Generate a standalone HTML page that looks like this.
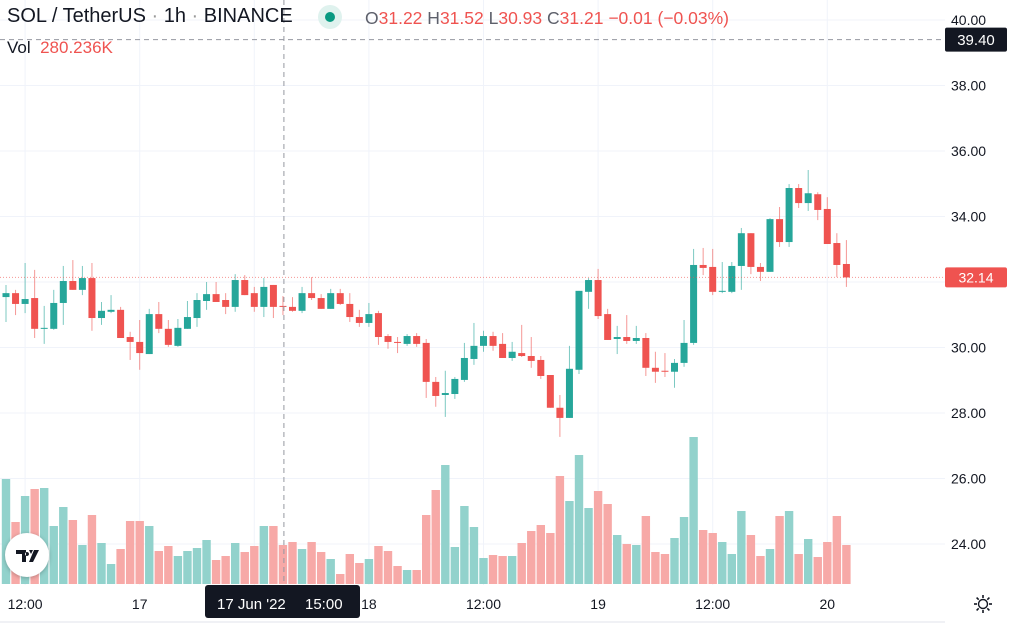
<!DOCTYPE html>
<html><head><meta charset="utf-8"><style>
html,body{margin:0;padding:0;background:#fff;}
body{width:1024px;height:633px;overflow:hidden;position:relative;font-family:"Liberation Sans",sans-serif;}
svg{position:absolute;left:0;top:0;}
.lg{position:absolute;white-space:nowrap;color:#131722;}
.r{color:#ef5350}.g{color:#5d606b}
</style></head><body>
<svg id="chart" width="1024" height="633" xmlns="http://www.w3.org/2000/svg">
<g id="grid"></g>
<g id="vol"></g>
<g id="candles"></g>
<g id="overlay"></g>
<g id="axes"></g>
</svg>
<div class="lg" style="left:7px;top:5px;font-size:20px;">SOL / TetherUS <span style="color:#999">·</span> 1h <span style="color:#999">·</span> BINANCE</div>
<div style="position:absolute;left:318px;top:5px;width:24px;height:24px;border-radius:50%;background:#dff2ee;"><div style="position:absolute;left:7px;top:7px;width:10px;height:10px;border-radius:50%;background:#089981"></div></div>
<div class="lg" style="left:365px;top:8px;font-size:17.5px;"><span class="g">O</span><span class="r">31.22</span> <span class="g">H</span><span class="r">31.52</span> <span class="g">L</span><span class="r">30.93</span> <span class="g">C</span><span class="r">31.21</span> <span class="r">−0.01 (−0.03%)</span></div>
<div class="lg" style="left:7px;top:38px;font-size:17px;"><span style="color:#131722">Vol</span>&nbsp; <span class="r">280.236K</span></div>
<div style="position:absolute;left:5px;top:533px;width:44px;height:44px;border-radius:50%;background:#fff;box-shadow:0 1px 4px rgba(0,0,0,0.25);"><svg width="44" height="44" viewBox="0 0 44 44"><path d="M11 17h10v12h-4v-8h-6z M24 17h4l-2 4z M29 17h5l-6 12h-4z M22 19a2 2 0 1 0 0.01 0" fill="#131722"/></svg></div>
<div style="position:absolute;left:973px;top:594px;width:20px;height:20px;"><svg width="20" height="20" viewBox="0 0 20 20"><circle cx="10" cy="10" r="4.5" fill="none" stroke="#131722" stroke-width="1.4"/><g stroke="#131722" stroke-width="1.6"><line x1="10" y1="1" x2="10" y2="4"/><line x1="10" y1="16" x2="10" y2="19"/><line x1="1" y1="10" x2="4" y2="10"/><line x1="16" y1="10" x2="19" y2="10"/><line x1="3.6" y1="3.6" x2="5.7" y2="5.7"/><line x1="14.3" y1="14.3" x2="16.4" y2="16.4"/><line x1="3.6" y1="16.4" x2="5.7" y2="14.3"/><line x1="14.3" y1="5.7" x2="16.4" y2="3.6"/></g></svg></div>
<script>
const opens=[31.54,31.66,31.33,31.51,30.57,30.57,31.36,32.03,31.76,32.12,30.90,31.09,31.15,30.32,30.17,29.80,31.02,30.57,30.05,30.57,30.90,31.42,31.63,31.45,31.24,32.06,31.66,31.24,31.91,31.27,31.24,31.12,31.66,31.51,31.18,31.66,31.33,30.93,30.75,31.05,30.35,30.17,30.11,30.35,30.14,28.95,28.55,28.58,29.01,29.65,30.05,30.35,30.11,29.68,29.83,29.74,29.62,29.16,28.16,27.85,29.32,31.70,32.06,31.02,30.26,30.32,30.20,30.29,29.38,29.29,29.26,29.53,30.14,32.52,32.46,31.70,31.70,32.49,33.49,32.46,32.31,33.92,33.22,34.87,34.41,34.68,34.23,33.19,32.55];
const highs=[31.91,31.76,32.58,32.37,31.27,31.76,32.49,32.67,32.49,32.58,31.39,31.60,31.24,30.48,30.84,31.18,31.39,30.84,30.87,31.42,31.66,32.00,32.00,31.66,32.24,32.21,31.85,32.12,31.91,31.57,31.54,31.85,32.15,31.63,31.79,31.79,31.66,31.15,31.36,31.12,30.41,30.32,30.41,30.44,30.26,29.10,29.29,29.10,30.14,30.75,30.51,30.48,30.44,30.17,30.69,30.32,29.74,29.16,28.55,30.05,31.73,32.12,32.40,31.18,30.66,30.99,30.66,30.44,29.87,29.83,29.65,30.84,33.01,33.04,33.01,32.61,32.61,33.65,33.49,32.58,33.95,34.29,34.99,34.99,35.42,34.74,34.59,33.49,33.28];
const lows=[30.78,30.99,31.05,30.29,30.11,30.54,30.69,31.76,31.60,30.51,30.69,31.05,30.29,29.62,29.32,29.80,30.44,30.02,30.02,30.57,30.63,31.15,31.39,31.02,31.09,31.60,31.09,30.93,30.90,30.99,31.09,31.05,31.45,31.18,31.18,31.30,30.78,30.63,30.63,30.08,29.96,29.83,30.05,30.02,28.46,28.19,27.88,28.43,28.95,29.47,29.87,29.90,29.68,29.59,29.71,29.38,29.04,28.16,27.27,27.85,29.19,31.18,30.87,30.23,29.80,30.11,30.11,29.13,28.92,29.10,28.77,29.41,30.08,32.21,31.60,31.66,31.66,31.76,32.24,32.03,32.31,33.07,33.07,34.26,34.17,33.89,33.16,32.15,31.85];
const closes=[31.66,31.33,31.48,30.57,30.60,31.36,32.03,31.76,32.12,30.90,31.12,31.15,30.29,30.17,29.83,31.02,30.57,30.08,30.60,30.93,31.45,31.63,31.39,31.24,32.06,31.60,31.24,31.85,31.24,31.24,31.12,31.66,31.51,31.18,31.66,31.33,30.93,30.75,31.02,30.32,30.17,30.14,30.35,30.11,28.95,28.52,28.61,29.04,29.68,30.05,30.35,30.05,29.68,29.87,29.74,29.59,29.13,28.16,27.85,29.35,31.73,32.06,30.96,30.23,30.32,30.20,30.29,29.38,29.26,29.26,29.53,30.14,32.52,32.43,31.70,31.73,32.49,33.49,32.46,32.31,33.92,33.22,34.87,34.41,34.71,34.20,33.16,32.52,32.14];
const volumes=[105,62,88,95,96,58,77,64,39,69,41,20,35,63,63,58,33,38,28,33,36,44,24,28,41,32,38,58,58,39,42,35,42,32,25,10,30,21,25,38,33,18,14,14,69,94,119,37,78,57,26,29,28,28,41,53,59,51,108,83,129,76,93,80,49,40,39,68,32,30,46,67,147,54,51,42,30,73,49,28,35,68,73,30,45,27,42,68,39];
const priceTicks=[40,38,36,34,32,30,28,26,24];
const priceTickLabels=["40.00","38.00","36.00","34.00","32.00","30.00","28.00","26.00","24.00"];
const timeTickIdx=[2,14,26,38,50,62,74,86];
const timeTickLabels=["12:00","17","12:00","18","12:00","19","12:00","20"];
const lastPrice=32.14, crossPrice=39.40, crossIdx=29.1;

const NS="http://www.w3.org/2000/svg";
const X=i=>6+i*9.55;
const Y=p=>282-(p-32)*32.75;
const V=v=>584-v;
function mk(parent,tag,attrs){const e=document.createElementNS(NS,tag);for(const k in attrs)e.setAttribute(k,attrs[k]);document.getElementById(parent).appendChild(e);return e;}
priceTicks.forEach((p,k)=>{const l=mk('grid','line',{x1:0,x2:945,y1:Y(p),y2:Y(p),stroke:'#f0f3fa','stroke-width':1});


const t=mk('axes','text',{x:951,y:Y(p)+5,'font-size':14,fill:'#131722','font-family':'Liberation Sans, sans-serif'});


t.textContent=priceTickLabels[k];});
timeTickIdx.forEach((i,k)=>{const l=mk('grid','line',{x1:X(i),x2:X(i),y1:0,y2:585,stroke:'#f0f3fa','stroke-width':1});


const t=mk('axes','text',{x:X(i),y:609,'font-size':14,fill:'#131722','text-anchor':'middle','font-family':'Liberation Sans, sans-serif'});


t.textContent=timeTickLabels[k];});
volumes.forEach((v,i)=>{const up=closes[i]>=opens[i];const r=mk('vol','rect',{x:X(i)-4.2,y:V(v),width:8.4,height:v,fill:up?'#92d2cc':'#f7a9a7'});

});
opens.forEach((o,i)=>{const c=closes[i],up=c>=o,col=up?'#26a69a':'#ef5350';
const w=mk('candles','line',{x1:X(i),x2:X(i),y1:Y(highs[i]),y2:Y(lows[i]),stroke:col,'stroke-width':1,opacity:0.6});


const top=Y(Math.max(o,c)),h=Math.max(1,Y(Math.min(o,c))-top);
const b=mk('candles','rect',{x:X(i)-3.5,y:top,width:7,height:h,fill:col});

});
let e;
e=mk('overlay','line',{x1:0,x2:945,y1:Y(lastPrice),y2:Y(lastPrice),stroke:'#ef5350','stroke-width':1,'stroke-dasharray':'1 2',opacity:0.6});


e=mk('overlay','line',{x1:0,x2:945,y1:Y(crossPrice),y2:Y(crossPrice),stroke:'#9598a1','stroke-width':1,'stroke-dasharray':'5 4'});


e=mk('overlay','line',{x1:X(crossIdx),x2:X(crossIdx),y1:0,y2:585,stroke:'#9598a1','stroke-width':1,'stroke-dasharray':'5 4'});


e=mk('axes','line',{x1:0,x2:945,y1:622,y2:622,stroke:'#e0e3eb','stroke-width':1});


e=mk('axes','rect',{x:945,y:Y(lastPrice)-10,width:62,height:20,fill:'#ef5350',rx:2});


e=mk('axes','text',{x:976,y:Y(lastPrice)+5,'font-size':14,fill:'#fff','text-anchor':'middle','font-family':'Liberation Sans, sans-serif'});


e.textContent=lastPrice.toFixed(2);
e=mk('axes','rect',{x:945,y:Y(crossPrice)-12,width:62,height:24,fill:'#131722',rx:2});


e=mk('axes','text',{x:976,y:Y(crossPrice)+5.5,'font-size':15,fill:'#fff','text-anchor':'middle','font-family':'Liberation Sans, sans-serif'});


e.textContent=crossPrice.toFixed(2);
e=mk('axes','rect',{x:205,y:585,width:155,height:33,fill:'#131722',rx:3});


e=mk('axes','text',{x:217,y:609,'font-size':15,fill:'#fff','font-family':'Liberation Sans, sans-serif'});


e.textContent="17 Jun '22";
e=mk('axes','text',{x:305,y:609,'font-size':15,fill:'#fff','font-family':'Liberation Sans, sans-serif'});


e.textContent="15:00";
</script>
</body></html>
